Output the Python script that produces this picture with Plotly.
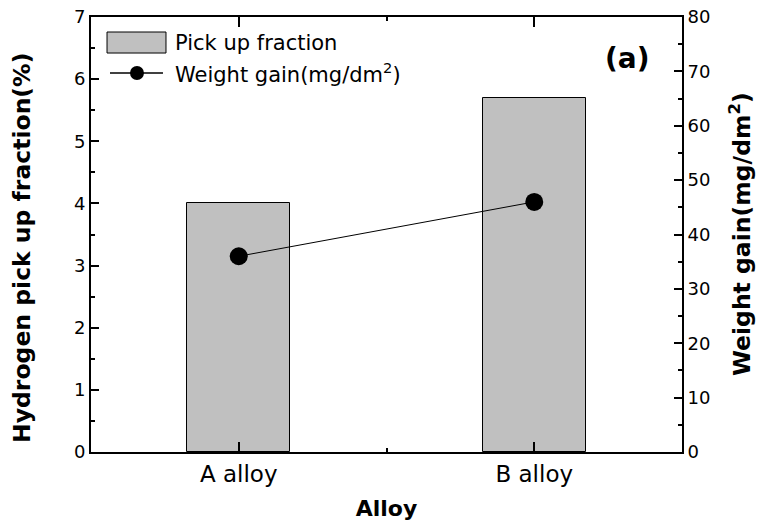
import plotly.graph_objects as go

categories = ["A alloy", "B alloy"]
pickup_fraction = [4.0, 5.7]          # Hydrogen pick up fraction (%)
weight_gain = [36, 46]                # Weight gain (mg/dm^2)
x_pos = list(range(len(categories)))

FONT = "DejaVu Sans"

fig = go.Figure()
fig.add_trace(go.Bar(
    x=x_pos, y=pickup_fraction, width=0.35,
    marker=dict(color="#c0c0c0", line=dict(color="black", width=1)),
    name="Pick up fraction", showlegend=False))
fig.add_trace(go.Scatter(
    x=x_pos, y=weight_gain, yaxis="y2", mode="lines+markers",
    line=dict(color="black", width=1),
    marker=dict(color="black", size=18),
    name="Weight gain(mg/dm<sup>2</sup>)", showlegend=False))

tickcommon = dict(ticks="inside", tickcolor="black", tickwidth=1.5,
                  showline=True, linecolor="black", linewidth=2,
                  showgrid=False, zeroline=False, automargin=False)

fig.update_layout(
    width=759, height=528,
    margin=dict(l=91, r=77, t=17, b=76),
    plot_bgcolor="white", paper_bgcolor="white",
    font=dict(family=FONT, color="black"),
    bargap=0,
    xaxis=dict(range=[-0.5, 1.5], tickmode="array", tickvals=x_pos,
               ticktext=categories, ticklen=10, mirror="ticks",
               tickfont=dict(size=23, family=FONT),
               minor=dict(tickmode="array", tickvals=[-0.5, 0.5, 1.5],
                          ticklen=4, tickcolor="black", ticks="inside"),
               title=dict(text="<b>Alloy</b>", font=dict(size=22, family=FONT),
                          standoff=15),
               **tickcommon),
    yaxis=dict(range=[0, 7], dtick=1, ticklen=8,
               tickfont=dict(size=18, family=FONT),
               minor=dict(dtick=0.5, ticklen=4, tickcolor="black", ticks="inside"),
               **tickcommon),
    yaxis2=dict(range=[0, 80], dtick=10, ticklen=8, overlaying="y", side="right",
                tickfont=dict(size=18, family=FONT),
                minor=dict(dtick=5, ticklen=4, tickcolor="black", ticks="inside"),
                **tickcommon),
)

# Axis titles placed as annotations for exact position
fig.add_annotation(xref="paper", yref="paper", x=-0.1168, y=0.469,
                   text="<b>Hydrogen pick up fraction(%)</b>", textangle=-90,
                   showarrow=False, xanchor="center", yanchor="middle",
                   font=dict(size=23.5, family=FONT))
fig.add_annotation(xref="paper", yref="paper", x=1.099, y=0.5,
                   text="<b>Weight gain(mg/dm<sup>2</sup>)</b>", textangle=-90,
                   showarrow=False, xanchor="center", yanchor="middle",
                   font=dict(size=23.5, family=FONT))

# Manual legend (symbol shapes + text)
fig.add_shape(type="rect", xref="paper", yref="paper",
              x0=0.0271, x1=0.1269, y0=0.9172, y1=0.9655,
              fillcolor="#c0c0c0", line=dict(color="black", width=1))
fig.add_shape(type="line", xref="paper", yref="paper",
              x0=0.0321, x1=0.1218, y0=0.8713, y1=0.8713,
              line=dict(color="black", width=1.5))
fig.add_shape(type="circle", xref="paper", yref="paper",
              xsizemode="pixel", ysizemode="pixel",
              xanchor=0.0778, yanchor=0.8713,
              x0=-7, x1=7, y0=-7, y1=7,
              fillcolor="black", line=dict(color="black", width=0))
fig.add_annotation(xref="paper", yref="paper", x=0.1387, y=0.9402,
                   text="Pick up fraction", showarrow=False,
                   xanchor="left", yanchor="middle",
                   font=dict(size=21, family=FONT))
fig.add_annotation(xref="paper", yref="paper", x=0.1387, y=0.8713,
                   text="Weight gain(mg/dm<sup>2</sup>)", showarrow=False,
                   xanchor="left", yanchor="middle",
                   font=dict(size=21, family=FONT))
fig.add_annotation(xref="paper", yref="paper", x=0.9086, y=0.9057,
                   text="<b>(a)</b>", showarrow=False,
                   xanchor="center", yanchor="middle",
                   font=dict(size=28, family=FONT))

fig.write_html("out.html")
